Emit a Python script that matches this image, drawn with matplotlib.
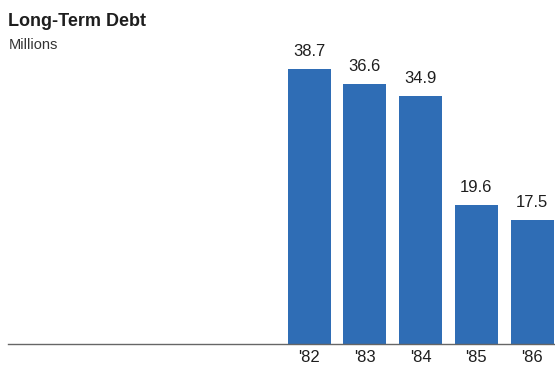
import matplotlib.pyplot as plt

# data
years = ["'82", "'83", "'84", "'85", "'86"]
debt = [38.7, 36.6, 34.9, 19.6, 17.5]

plt.rcParams['font.family'] = ['Liberation Sans', 'DejaVu Sans']

fig = plt.figure(figsize=(5.55, 3.7), dpi=100)
ax = fig.add_axes([8 / 555, 26 / 370, 547 / 555, 320 / 370])

pos = list(range(len(years)))
ax.bar(pos, debt, width=0.77, color='#2f6db5')

# values above bars
for p, v in zip(pos, debt):
    ax.annotate(f"{v:.1f}", (p, v), xytext=(0, 9), textcoords='offset points',
                ha='center', va='baseline', fontsize=12, color='#1e1e1e')

ax.set_xlim(-5.4, 4.41)
ax.set_ylim(0, 45)
ax.set_xticks(pos)
ax.set_xticklabels(years, fontsize=12, color='#1e1e1e')
ax.tick_params(axis='x', length=0, pad=4.5)
ax.set_yticks([])
for s in ['top', 'right', 'left']:
    ax.spines[s].set_visible(False)
ax.spines['bottom'].set_color('#666666')
ax.spines['bottom'].set_linewidth(1.0)

fig.text(8 / 555, 1 - 26 / 370, "Long-Term Debt", fontsize=13, fontweight='bold',
         va='baseline', ha='left', color='#1e1e1e')
fig.text(9 / 555, 1 - 49 / 370, "Millions", fontsize=10.5, va='baseline', ha='left', color='#333333')

fig.savefig('out.png', dpi=100)
